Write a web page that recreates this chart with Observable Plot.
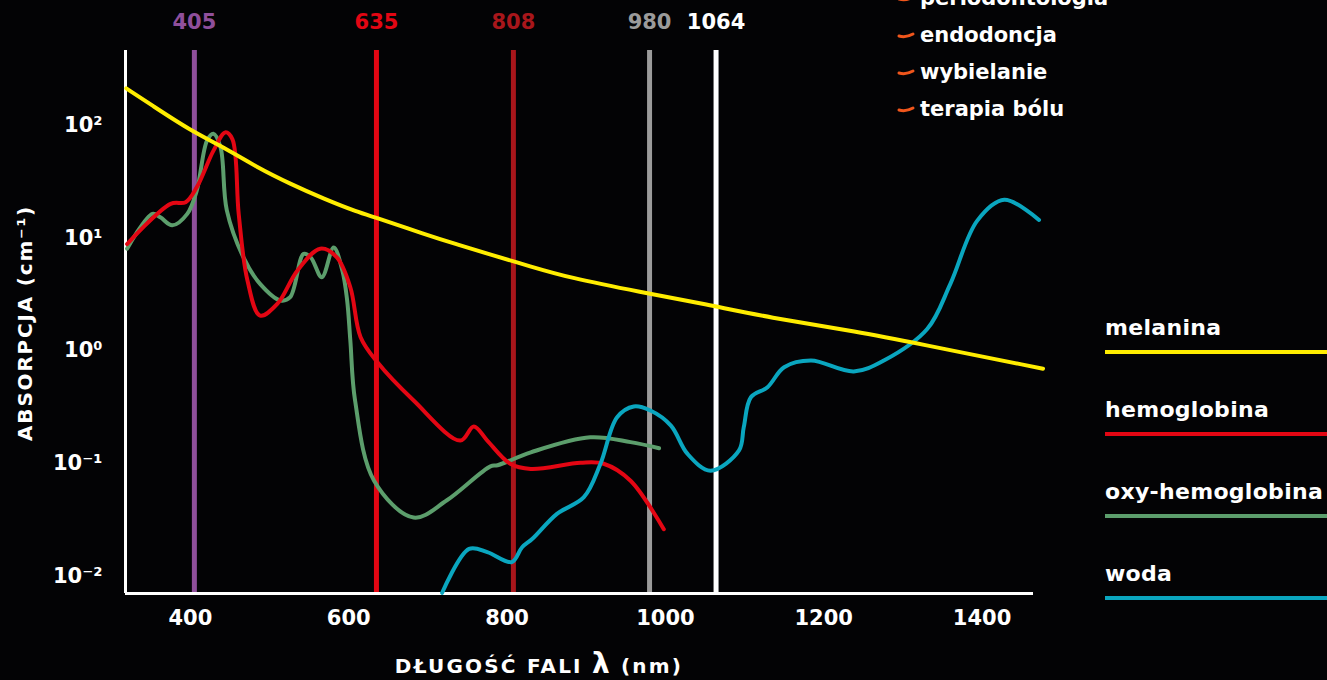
<!DOCTYPE html>
<html>
<head>
<meta charset="utf-8">
<script src="https://cdn.jsdelivr.net/npm/d3@7"></script>
<script src="https://cdn.jsdelivr.net/npm/@observablehq/plot@0.6"></script>
<style>
  html, body { margin: 0; padding: 0; background: #030305; overflow: hidden; }
  body { width: 1327px; height: 680px; position: relative; }
  #chart { position: absolute; left: 0; top: 0; }
  #overlay { position: absolute; left: 0; top: 0; pointer-events: none; }
</style>
</head>
<body>
<div id="chart"></div>
<svg id="overlay" width="1327" height="680"></svg>
<script>
// ---- data ----
const xTicks = [400, 600, 800, 1000, 1200, 1400];
const yTicks = [0.01, 0.1, 1, 10, 100];
const yTickLabels = ["10⁻²", "10⁻¹", "10⁰", "10¹", "10²"];

const laserNm = [405, 635, 808, 980, 1064];
const laserColors = ["#8f4f9b", "#e30613", "#a8161b", "#9b9b9b", "#ffffff"];

// [wavelength nm, absorption cm^-1]
const melanina = [[319,211],[350,152],[400,89.4],[442,63.6],[484,42.2],[526,30.1],[569,22.1],[611,16.9],[636,15.0],[695,10.8],[737,8.71],[779,7.10],[830,5.56],[876,4.47],[969,3.29],[1053,2.56],[1129,1.97],[1247,1.45],[1314,1.17],[1477,0.69]];
const hemoglobina = [[320,8.8],[375,20],[394,20.7],[408,28],[429,59],[444,86],[453,75],[461,16.3],[472,4.2],[488,2.04],[510,2.6],[535,5.1],[564,8.0],[585,6.7],[602,3.64],[615,1.31],[636,0.79],[682,0.36],[741,0.159],[758,0.212],[775,0.159],[804,0.099],[830,0.089],[893,0.101],[922,0.099],[956,0.070],[998,0.026]];
const oxyHemoglobina = [[320,8.0],[352,16.3],[362,15.2],[377,12.9],[396,16.3],[408,26.2],[421,72.8],[429,83.6],[438,63.6],[446,17.5],[467,6.7],[488,3.9],[514,2.78],[526,2.97],[543,7.2],[552,6.7],[566,4.47],[581,8.2],[592,5.1],[598,2.78],[602,1.23],[608,0.36],[632,0.070],[682,0.033],[724,0.047],[779,0.094],[788,0.096],[830,0.125],[905,0.170],[956,0.154],[992,0.136]];
const woda = [[718,0.0071],[752,0.0174],[775,0.0163],[806,0.0133],[819,0.018],[832,0.0214],[863,0.0356],[897,0.050],[918,0.099],[939,0.256],[960,0.319],[981,0.294],[1007,0.216],[1028,0.121],[1057,0.086],[1093,0.130],[1099,0.209],[1108,0.385],[1129,0.473],[1150,0.711],[1184,0.815],[1238,0.651],[1276,0.815],[1331,1.56],[1360,3.9],[1394,14.2],[1428,21.7],[1472,14.4]];

const seriesNames = ["melanina", "hemoglobina", "oxy-hemoglobina", "woda"];
const seriesColors = ["#ffed00", "#e30613", "#5c9e6c", "#0aa6bf"];
const usesNames = ["periodontologia", "endodoncja", "wybielanie", "terapia bólu"];
const usesColor = "#f0561c";

// ---- chart ----
const FONT = "'DejaVu Sans', sans-serif";
const lasers = laserNm.map((nm, i) => ({nm, color: laserColors[i]}));
const xMin = 318, yMin = 0.0070;

const curve = (data, color, kind = "catmull-rom") => Plot.line(data, {
  x: d => d[0], y: d => d[1], stroke: color, strokeWidth: 4, curve: kind
});

const chart = Plot.plot({
  width: 1327, height: 680,
  marginLeft: 125, marginRight: 294, marginTop: 50, marginBottom: 87,
  style: {background: "transparent", color: "#fff", fontFamily: FONT, fontWeight: "bold", fontSize: "21px", overflow: "visible"},
  color: {type: "identity"},
  x: {domain: [xMin, 1465], ticks: xTicks, tickSize: 0, tickPadding: 17, label: null, tickFormat: d => String(d)},
  y: {type: "log", domain: [yMin, 458], ticks: yTicks, tickSize: 0, tickPadding: 23, label: null,
      tickFormat: d => yTickLabels[yTicks.indexOf(d)]},
  marks: [
    Plot.ruleX(lasers, {x: "nm", stroke: "color", strokeWidth: 5}),
    Plot.text(lasers, {x: "nm", text: d => String(d.nm), fill: "color", frameAnchor: "top", lineAnchor: "middle", dy: -28, fontSize: 21, fontWeight: "bold"}),
    Plot.ruleX([xMin], {stroke: "#fff", strokeWidth: 3}),
    Plot.ruleY([yMin], {stroke: "#fff", strokeWidth: 3}),
    curve(oxyHemoglobina, seriesColors[2]),
    curve(hemoglobina, seriesColors[1]),
    curve(woda, seriesColors[3]),
    curve(melanina, seriesColors[0], "basis")
  ]
});
document.getElementById("chart").appendChild(chart);

// ---- legends & titles ----
const ov = d3.select("#overlay").style("font-family", FONT).style("font-weight", "bold");

// right series legend
seriesNames.forEach((name, i) => {
  const base = 335 + i * 82;
  ov.append("text").attr("x", 1105).attr("y", base).attr("fill", "#fff")
    .attr("font-size", 22).attr("letter-spacing", 0.3).text(name);
  ov.append("rect").attr("x", 1105).attr("y", base + 15).attr("width", 222).attr("height", 4).attr("fill", seriesColors[i]);
});

// top-right uses legend
usesNames.forEach((name, i) => {
  const base = 5 + i * 37;
  ov.append("path")
    .attr("d", `M899,${base - 6} Q906,${base - 4} 913,${base - 8}`)
    .attr("stroke", usesColor).attr("stroke-width", 3).attr("fill", "none").attr("stroke-linecap", "round");
  ov.append("text").attr("x", 920).attr("y", base).attr("fill", "#fff").attr("font-size", 21).text(name);
});

// axis titles
const xt = ov.append("text").attr("x", 539).attr("y", 673).attr("text-anchor", "middle")
  .attr("fill", "#fff").attr("font-size", 20).attr("letter-spacing", 2.2);
xt.append("tspan").text("DŁUGOŚĆ FALI ");
xt.append("tspan").attr("font-size", 28).text("λ");
xt.append("tspan").text(" (nm)");

ov.append("text").attr("transform", "translate(32,323) rotate(-90)").attr("text-anchor", "middle")
  .attr("fill", "#fff").attr("font-size", 20).attr("letter-spacing", 1.8).text("ABSORPCJA (cm⁻¹)");
</script>
</body>
</html>
